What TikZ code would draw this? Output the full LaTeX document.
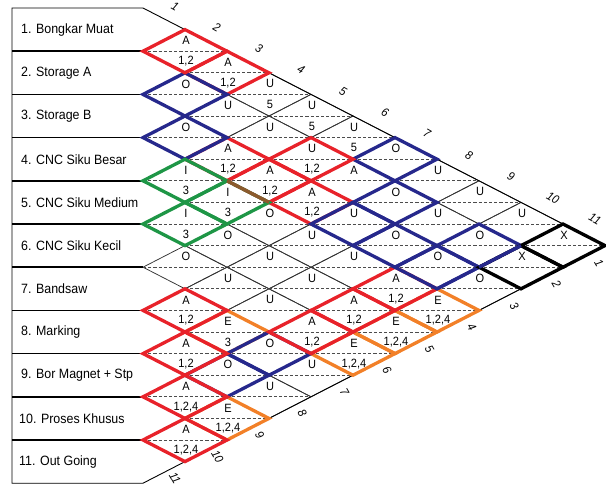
\documentclass[tikz,border=0pt]{standalone}
\usepackage{fontspec}
\setmainfont{Liberation Sans}[FakeStretch=0.92]
\definecolor{arcred}{RGB}{232,34,42}
\definecolor{arcblue}{RGB}{38,40,140}
\definecolor{arcgreen}{RGB}{30,150,70}
\definecolor{arcorange}{RGB}{242,128,40}
\definecolor{arcbrown}{RGB}{140,90,45}
\newcommand\arcx[2]{143+42*(#2-#1)}
\newcommand\arcy[2]{8+21.6*(#1+#2-1)}
\newcommand\arcdia[3]{\draw[#3] ({\arcx{#1}{#2}-42},{\arcy{#1}{#2}}) -- ++(42,-21.6) -- ++(42,21.6) -- ++(-42,21.6) -- cycle;}
\newcommand\arctxt[4]{%
  \node[dtxt] (t-#1-#2) at ({\arcx{#1}{#2}+1},{\arcy{#1}{#2}-10.5}) {#3};%
  \node[dtxt] (b-#1-#2) at ({\arcx{#1}{#2}+1},{\arcy{#1}{#2}+10}) {#4};}
\begin{document}
\begin{tikzpicture}[x=1pt,y=-1pt,
  gridline/.style={line width=0.75pt,black!80},
  dashline/.style={line width=0.7pt,black!70,dash pattern=on 3.2pt off 2pt},
  frameline/.style={line width=0.9pt,black},
  rowline/.style={line width=1.6pt,black},
  thickline/.style={line width=3.3pt,line join=miter,miter limit=4},
  redd/.style={thickline,draw=arcred},
  blued/.style={thickline,draw=arcblue},
  greend/.style={thickline,draw=arcgreen},
  oranged/.style={thickline,draw=arcorange},
  blackd/.style={thickline,draw=black},
  rowlab/.style={anchor=west,inner sep=0pt,font=\fontsize{13.5}{15}\selectfont},
  dtxt/.style={inner sep=0pt,font=\fontsize{12}{13}\selectfont},
  enumtxt/.style={inner sep=0pt,font=\fontsize{12}{13}\selectfont\itshape}]
\useasboundingbox (0,0) rectangle (606,488);
% thin grid and dashed centre lines
\foreach \i in {1,...,10}{
  \pgfmathtruncatemacro\jstart{\i+1}
  \foreach \j in {\jstart,...,11}{
    \arcdia{\i}{\j}{gridline}
    \draw[dashline] ({\arcx{\i}{\j}-42},{\arcy{\i}{\j}}) -- ++(84,0);
  }
}
% frame and label column
\draw[frameline] (12,8) -- (143,8) -- (605,245.6) -- (143,483.2) -- (12,483.2) -- cycle;
\foreach \k in {1,...,10}{
  \draw[rowline] (12,{8+43.2*\k}) -- (143,{8+43.2*\k});
}
% coloured diamonds
\foreach \i/\j in {7/9,9/11,4/11,5/11,6/11} {\arcdia{\i}{\j}{oranged}}
\foreach \i/\j in {1/3,3/5,4/10,3/7} {\arcdia{\i}{\j}{redd}}
\foreach \i/\j in {2/3,3/4,1/7,2/8,3/8,3/9,3/10,2/10,7/10,8/10} {\arcdia{\i}{\j}{blued}}
\draw[thickline,draw=arcblue] (437,288.8) -- (479,267.2);
\foreach \i/\j in {1/2,2/6,3/6,5/10,6/10,7/8,8/9,9/10,10/11} {\arcdia{\i}{\j}{redd}}
\foreach \i/\j in {4/5,5/6,4/6} {\arcdia{\i}{\j}{greend}}
\foreach \i/\j in {1/11,2/11} {\arcdia{\i}{\j}{blackd}}
\draw[thickline,draw=arcblue] (521,245.6) -- (479,267.2);
\draw[thickline,draw=arcbrown] (227,180.8) -- (269,202.4);
% row labels
\node[rowlab] (r1) at (21,29.6) {1. Bongkar Muat};
\node[rowlab] (r2) at (21,72.8) {2. Storage A};
\node[rowlab] (r3) at (21,116) {3. Storage B};
\node[rowlab] (r4) at (21,159.2) {4. CNC Siku Besar};
\node[rowlab] (r5) at (21,202.4) {5. CNC Siku Medium};
\node[rowlab] (r6) at (21,245.6) {6. CNC Siku Kecil};
\node[rowlab] (r7) at (21,288.8) {7. Bandsaw};
\node[rowlab] (r8) at (21,332) {8. Marking};
\node[rowlab] (r9) at (21,375.2) {9. Bor Magnet + Stp};
\node[rowlab] (r10) at (19,418.4) {10. Proses Khusus};
\node[rowlab] (r11) at (19,461.6) {11. Out Going};
% edge numbers
\foreach \k in {1,...,11}{
  \node[enumtxt,rotate=-30] (u\k) at ({175+42*(\k-1)},{6+21.3*(\k-1)}) {\k};
  \node[enumtxt,rotate=-60] (l\k) at ({599-42.4*(\k-1)},{263+21.5*(\k-1)}) {\k};
}
% diamond texts
\arctxt{1}{2}{A}{1,2}
\arctxt{1}{3}{A}{1,2}
\arctxt{1}{4}{U}{5}
\arctxt{1}{5}{U}{5}
\arctxt{1}{6}{U}{5}
\arctxt{1}{7}{O}{}
\arctxt{1}{8}{U}{}
\arctxt{1}{9}{U}{}
\arctxt{1}{10}{U}{}
\arctxt{1}{11}{X}{}
\arctxt{2}{3}{O}{}
\arctxt{2}{4}{U}{}
\arctxt{2}{5}{U}{}
\arctxt{2}{6}{U}{1,2}
\arctxt{2}{7}{A}{}
\arctxt{2}{8}{O}{}
\arctxt{2}{9}{U}{}
\arctxt{2}{10}{O}{}
\arctxt{2}{11}{X}{}
\arctxt{3}{4}{O}{}
\arctxt{3}{5}{A}{1,2}
\arctxt{3}{6}{A}{1,2}
\arctxt{3}{7}{A}{1,2}
\arctxt{3}{8}{U}{}
\arctxt{3}{9}{O}{}
\arctxt{3}{10}{O}{}
\arctxt{3}{11}{O}{}
\arctxt{4}{5}{I}{3}
\arctxt{4}{6}{I}{3}
\arctxt{4}{7}{O}{}
\arctxt{4}{8}{U}{}
\arctxt{4}{9}{U}{}
\arctxt{4}{10}{A}{1,2}
\arctxt{4}{11}{E}{1,2,4}
\arctxt{5}{6}{I}{3}
\arctxt{5}{7}{O}{}
\arctxt{5}{8}{U}{}
\arctxt{5}{9}{U}{}
\arctxt{5}{10}{A}{1,2}
\arctxt{5}{11}{E}{1,2,4}
\arctxt{6}{7}{O}{}
\arctxt{6}{8}{U}{}
\arctxt{6}{9}{U}{}
\arctxt{6}{10}{A}{1,2}
\arctxt{6}{11}{E}{1,2,4}
\arctxt{7}{8}{A}{1,2}
\arctxt{7}{9}{E}{3}
\arctxt{7}{10}{O}{}
\arctxt{7}{11}{U}{}
\arctxt{8}{9}{A}{1,2}
\arctxt{8}{10}{O}{}
\arctxt{8}{11}{U}{}
\arctxt{9}{10}{A}{1,2,4}
\arctxt{9}{11}{E}{1,2,4}
\arctxt{10}{11}{A}{1,2,4}
\end{tikzpicture}
\end{document}
